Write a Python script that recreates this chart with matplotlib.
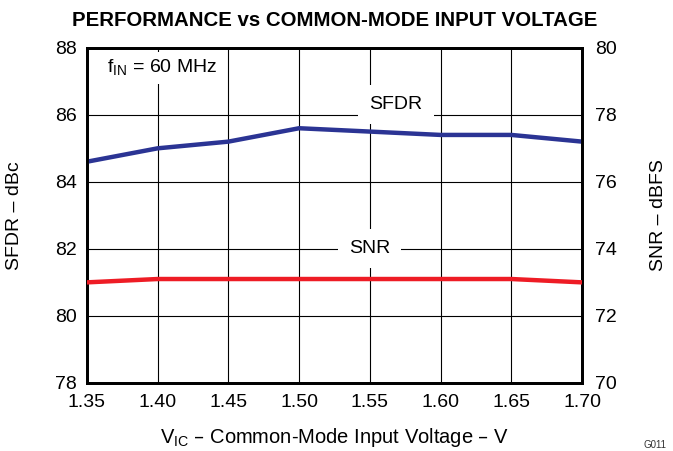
import numpy as np
import matplotlib.pyplot as plt

plt.rcParams['font.family'] = ['Liberation Sans', 'DejaVu Sans']

# Data
vic = [1.35, 1.40, 1.45, 1.50, 1.55, 1.60, 1.65, 1.70]
sfdr = [84.6, 85.0, 85.2, 85.6, 85.5, 85.4, 85.4, 85.2]
snr = [73.0, 73.1, 73.1, 73.1, 73.1, 73.1, 73.1, 73.0]
xticks = ['1.35', '1.40', '1.45', '1.50', '1.55', '1.60', '1.65', '1.70']

fig = plt.figure(figsize=(6.73, 4.51), dpi=100)
ax1 = fig.add_axes([0.129, 0.151, 0.736, 0.743])
ax2 = ax1.twinx()

ax1.plot(vic, sfdr, color='#2b3494', linewidth=3.2, zorder=3)
ax2.plot(vic, snr, color='#ee1c25', linewidth=3.2, zorder=3)

ax1.set_xlim(1.35, 1.70)
ax1.set_ylim(78, 88)
ax2.set_ylim(70, 80)
ax1.set_xticks(vic)
ax1.set_xticklabels(xticks)
ax1.set_yticks(np.arange(78, 89, 2))
ax2.set_yticks(np.arange(70, 81, 2))

ax1.grid(True, color='black', linewidth=0.8)
ax1.tick_params(axis='x', length=0, labelsize=14, pad=8)
ax1.tick_params(axis='y', length=0, labelsize=14, pad=7)
ax2.tick_params(length=0, labelsize=14, pad=9)
for ax in (ax1, ax2):
    for s in ax.spines.values():
        s.set_linewidth(2)

ax1.set_ylabel('SFDR – dBc', fontsize=14)
ax2.set_ylabel('SNR – dBFS', fontsize=14)
ax1.yaxis.set_label_coords(-0.129, 0.5)
ax2.yaxis.set_label_coords(1.137, 0.5)
ax1.set_xlabel('V$_{\\mathregular{IC}}$ – Common-Mode Input Voltage – V', fontsize=14.5, labelpad=11)
ax1.set_title('PERFORMANCE vs COMMON-MODE INPUT VOLTAGE', fontsize=14.7, fontweight='bold', pad=16)

ax1.text(1.364, 87.4, 'f$_{\\mathregular{IN}}$ = 60 MHz', fontsize=14, va='center', ha='left',
         bbox=dict(facecolor='white', edgecolor='none', pad=4), zorder=4)
ax1.text(1.5685, 86.3, 'SFDR', fontsize=14, va='center', ha='center',
         bbox=dict(facecolor='white', edgecolor='none', pad=8), zorder=4)
ax1.text(1.5496, 82.0, 'SNR', fontsize=14, va='center', ha='center',
         bbox=dict(facecolor='white', edgecolor='none', pad=8), zorder=4)

fig.text(0.99, 0.003, 'G011', fontsize=7, ha='right', va='bottom', color='#333333')

fig.savefig('out.png', dpi=100)
